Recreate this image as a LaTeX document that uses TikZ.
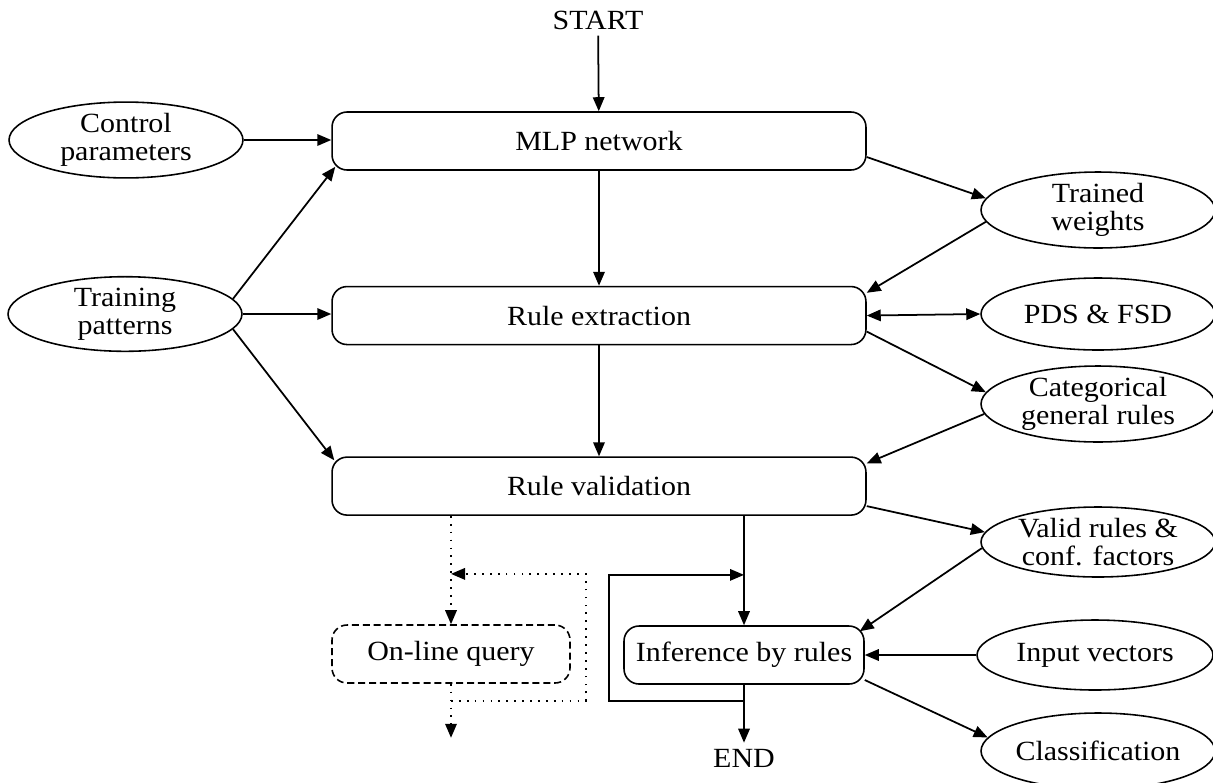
\documentclass[tikz,border=0pt]{standalone}
\usepackage{fontspec}
\setmainfont{Liberation Serif}[FakeStretch=1.08]
\usetikzlibrary{arrows.meta,positioning,shapes.geometric,calc}

\tikzset{
	stage/.style={draw, rounded corners=0.3cm, minimum width=10.68cm, minimum height=1.16cm, line width=0.9pt},
	store/.style={draw, ellipse, minimum width=4.68cm, minimum height=1.44cm, inner sep=0pt, align=center, line width=0.9pt},
	flow/.style={line width=1pt, -{Triangle[length=0.28cm,width=0.23cm]}},
	maybe/.style={line width=1pt, dash pattern=on 1pt off 3.5pt, -{Triangle[length=0.28cm,width=0.23cm]}},
}

\begin{document}
\begin{tikzpicture}[x=0.02cm, y=-0.02cm, font=\fontsize{15.8}{16.2}\selectfont]
	\useasboundingbox (0,0) rectangle (1213,782);

	% stages in the middle
	\node[stage] (mlp) at (599,141) {MLP network};
	\node[stage, below=2.3cm of mlp] (rex) {Rule extraction};
	\node[stage, below=2.22cm of rex] (rval) {Rule validation};
	\node[stage, minimum width=4.76cm, dash pattern=on 4pt off 2.2pt] (query) at (451,654) {On-line query};
	\node[stage, minimum width=4.8cm] (infer) at (744,655) {Inference by rules};
	\node (start) at (598,20) {START};
	\node (end) at (744,758) {END};

	% data on both sides
	\node[store] (ctrl) at (126,140) {Control\\parameters};
	\node[store, minimum height=1.42cm] (train) at (125,314) {Training\\patterns};
	\node[store, minimum height=1.48cm] (weights) at (1098,210) {Trained\\weights};
	\node[store] (pds) at (1098,314) {PDS \& FSD};
	\node[store, minimum height=1.36cm] (cat) at (1098,404) {Categorical\\general rules};
	\node[store, minimum height=1.4cm] (valid) at (1098,542) {Valid rules \&\\conf. factors};
	\node[store, minimum width=4.72cm, minimum height=1.4cm] (input) at (1095,655) {Input vectors};
	\node[store, minimum height=1.52cm] (classif) at (1098,751) {Classification};

	% main flow
	\draw[flow] (start) -- (mlp);
	\draw[flow] (mlp) -- (rex);
	\draw[flow] (rex) -- (rval);
	\draw[flow] (rval.south -| infer.north) -- (infer.north);
	\draw[flow] (infer.south) -- (end.north);

	\draw[flow] (ctrl.east) -- (ctrl.east -| mlp.west);
	\draw[flow] (train.8) -- ($(mlp.south west)+(4,-4)$);
	\draw[flow] (train.east) -- (train.east -| rex.west);
	\draw[flow] (train.-8) -- ($(rval.north west)+(3,4)$);

	\draw[flow] ($(mlp.east)+(0,16)$) -- (weights.174);
	\draw[flow] (weights.186) -- ($(rex.north east)+(0,7)$);
	\draw[line width=1pt, {Triangle[length=0.28cm,width=0.23cm]}-{Triangle[length=0.28cm,width=0.23cm]}] (rex.east) -- (pds.west);
	\draw[flow] ($(rex.east)+(0,16)$) -- (cat.174);
	\draw[flow] (cat.185) -- ($(rval.north east)+(0,7)$);
	\draw[flow] ($(rval.east)+(0,20)$) -- (valid.175);
	\draw[flow] (valid.183) -- ($(infer.north east)+(-5,6)$);
	\draw[flow] (input.west) -- (infer.east);
	\draw[flow] ($(infer.east)+(0,25)$) -- (classif.173);

	% loop back round inference
	\coordinate (fbout) at ($(infer.south)+(0,16)$);
	\coordinate (fbin) at ($(rval.south -| infer.north)+(0,59)$);
	\draw[flow] (fbout) -| ($(infer.west)+(-14,0)$) |- (fbin);

	% optional query path
	\coordinate (qout) at ($(query.south)+(0,17)$);
	\coordinate (qin) at ($(rval.south -| query.north)+(0,58)$);
	\coordinate (qend) at ($(query.south)+(0,54)$);
	\draw[maybe] (rval.south -| query.north) -- (query.north);
	\draw[maybe] (qout) -| ($(query.east)+(15,0)$) |- (qin);
	\draw[maybe] (query.south) -- (qend);
\end{tikzpicture}
\end{document}
